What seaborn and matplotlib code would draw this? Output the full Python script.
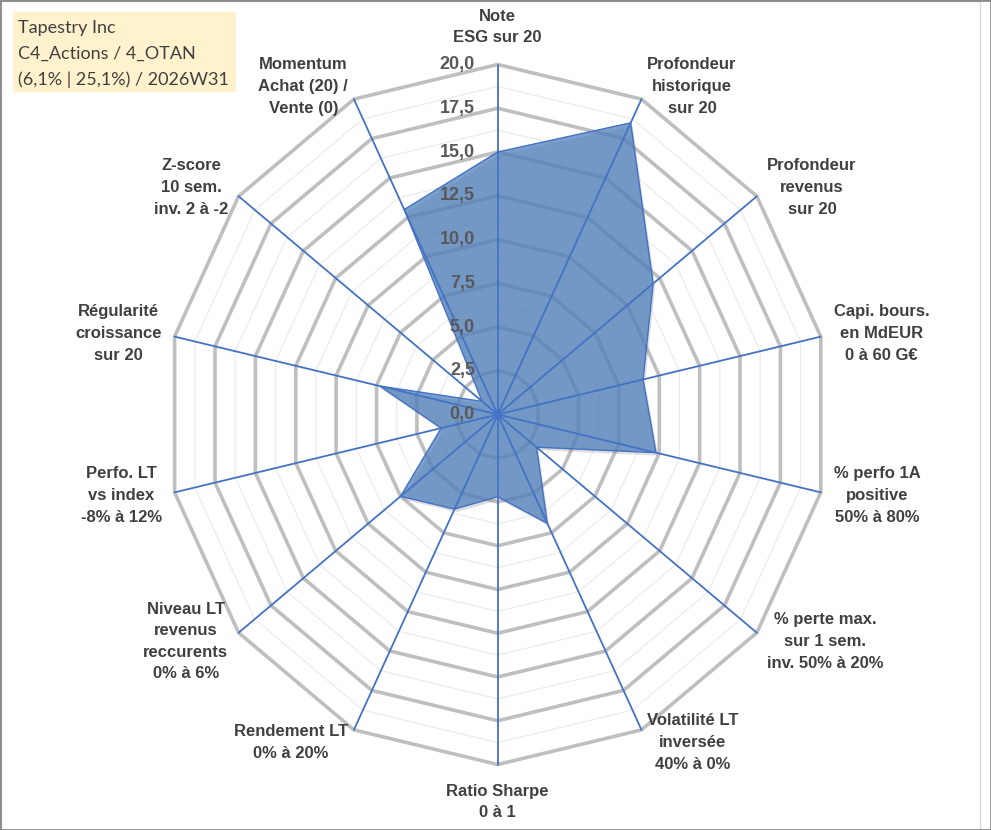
import numpy as np
import matplotlib
matplotlib.use("Agg")
import matplotlib.pyplot as plt
import matplotlib.transforms as mtransforms
from matplotlib.patches import Rectangle
import seaborn as sns

# Radar data (scores on a 0-20 scale, clockwise from the top)
axis_labels = [
    "Note\nESG sur 20",
    "Profondeur\nhistorique\nsur 20",
    "Profondeur\nrevenus\nsur 20",
    "Capi. bours.\nen MdEUR\n0 à 60 G€",
    "% perfo 1A\npositive\n50% à 80%",
    "% perte max.\nsur 1 sem.\ninv. 50% à 20%",
    "Volatilité LT\ninversée\n40% à 0%",
    "Ratio Sharpe\n0 à 1",
    "Rendement LT\n0% à 20%",
    "Niveau LT\nrevenus\nreccurents\n0% à 6%",
    "Perfo. LT\nvs index\n-8% à 12%",
    "Régularité\ncroissance\nsur 20",
    "Z-score\n10 sem.\ninv. 2 à -2",
    "Momentum\nAchat (20) /\nVente (0)",
]
scores = [15.0, 18.5, 12.0, 9.0, 9.8, 3.0, 6.9, 4.7, 6.0, 7.5, 3.5, 7.3, 1.2, 13.0]
major_ticks = [0.0, 2.5, 5.0, 7.5, 10.0, 12.5, 15.0, 17.5, 20.0]
tick_labels = ["0,0", "2,5", "5,0", "7,5", "10,0", "12,5", "15,0", "17,5", "20,0"]
title_lines = ["Tapestry Inc", "C4_Actions / 4_OTAN", "(6,1% | 25,1%) / 2026W31"]

sns.set_theme(style="white")

W, H = 991, 830
fig = plt.figure(figsize=(W / 100, H / 100), dpi=100)
fig.patch.set_facecolor("white")
ax = fig.add_axes([0, 0, 1, 1])
ax.axis("off")

# centre of the web in pixels and pixel size of one score unit
cx, cy = 497.7, 414.5
ux, uy = 16.57, 17.5
ax.set_xlim(-cx / ux, (W - cx) / ux)
ax.set_ylim(-(H - cy) / uy, cy / uy)

n = len(scores)
ang = np.arange(n) * 2 * np.pi / n
sx, sy = np.sin(ang), np.cos(ang)
rmax = major_ticks[-1]

# grid polygons
minor = np.arange(1.25, rmax, 2.5)
for r in minor:
    ax.plot(np.append(r * sx, r * sx[0]), np.append(r * sy, r * sy[0]),
            color="#EBEBEB", lw=0.9, zorder=1)
for r in major_ticks[1:]:
    ax.plot(np.append(r * sx, r * sx[0]), np.append(r * sy, r * sy[0]),
            color="#BFBFBF", lw=2.6, zorder=2, solid_joinstyle="miter")

# series polygon
vals = np.array(scores)
px = np.append(vals * sx, vals[0] * sx[0])
py = np.append(vals * sy, vals[0] * sy[0])
shadow = mtransforms.offset_copy(ax.transData, fig=fig, x=2, y=-3, units="dots")
ax.fill(px, py, color="#7F7F7F", alpha=0.25, lw=0, zorder=3, transform=shadow)
ax.fill(px, py, color="#4F81BD", alpha=0.75, lw=0, zorder=4)
sns.lineplot(x=px, y=py, sort=False, estimator=None, color="#4472C4", lw=1.0,
             ax=ax, zorder=5)

# spokes
for i in range(n):
    ax.plot([0, rmax * sx[i]], [0, rmax * sy[i]], color="#4472C4", lw=1.3, zorder=6)

# value ticks along the top spoke
for v, t in zip(major_ticks, tick_labels):
    ax.text(-22.7 / ux, v, t, ha="right", va="center", fontsize=13, fontweight="bold",
            color="#595959", family="Liberation Sans", zorder=7)

# category labels
for i, lab in enumerate(axis_labels):
    s, c = sx[i], sy[i]
    if abs(s) < 0.1:
        ha = "center"
        va = "bottom" if c > 0 else "top"
        rl = rmax + 1.1
    else:
        ha = "left" if s > 0 else "right"
        va = "center"
        rl = rmax + 0.8
    ax.text(rl * s, rl * c, lab, ha=ha, va=va, multialignment="center",
            fontsize=12, fontweight="bold", color="#404040",
            family="Liberation Sans", linespacing=1.55, zorder=7)

# title box
fig.patches.append(Rectangle((13 / W, 1 - 92 / H), 223 / W, 80 / H,
                             transform=fig.transFigure, facecolor="#FFF2CC",
                             edgecolor="none", zorder=0))
fig.text(18 / W, 1 - 20 / H, "\n".join(title_lines), ha="left", va="top",
         fontsize=13, color="#404040", family="Lato", linespacing=1.72)

# frame
fig.patches.append(Rectangle((0.5 / W, 0.5 / H), 979 / W, 1 - 2 / H,
                             transform=fig.transFigure, fill=False,
                             edgecolor="#D9D9D9", lw=1))
fig.patches.append(Rectangle((0, 0), 1, 1, transform=fig.transFigure, fill=False,
                             edgecolor="#8C8C8C", lw=2))

fig.savefig("out.png", dpi=100)
